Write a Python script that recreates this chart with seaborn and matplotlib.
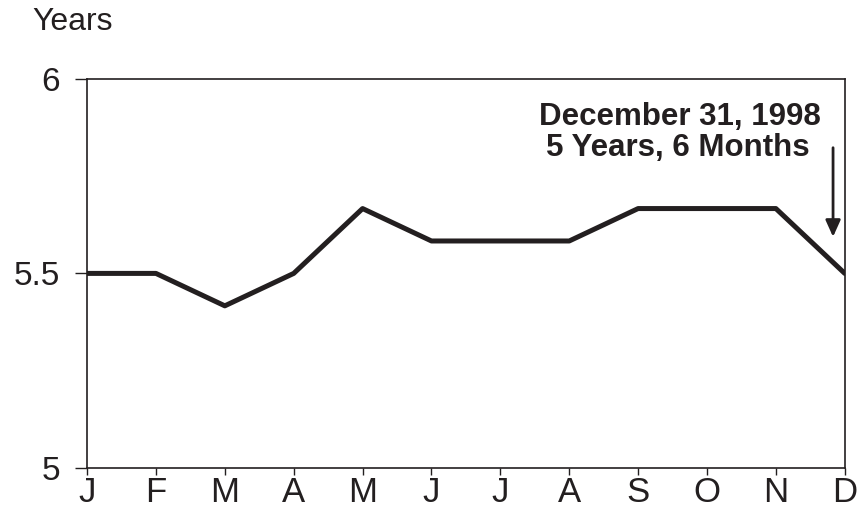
import seaborn as sns
import matplotlib.pyplot as plt
import pandas as pd

months = ['J', 'F', 'M', 'A', 'M', 'J', 'J', 'A', 'S', 'O', 'N', 'D']
# average maturity in months, shown in years
maturity_months = [66, 66, 65, 66, 68, 67, 67, 67, 68, 68, 68, 66]

df = pd.DataFrame({'idx': range(len(months)),
                   'years': [m / 12 for m in maturity_months]})

sns.set_style('white')
plt.rcParams['font.family'] = ['Liberation Sans', 'DejaVu Sans']

ink = '#231f20'
fig = plt.figure(figsize=(8.62, 5.12), dpi=100)
ax = fig.add_axes([0.101, 0.086, 0.879, 0.760])

sns.lineplot(data=df, x='idx', y='years', color=ink, linewidth=3.6, ax=ax)

ax.set_xlim(0, 11)
ax.set_ylim(5, 6)
ax.set_xticks(range(len(months)))
ax.set_xticklabels(months)
ax.set_yticks([5, 5.5, 6])
ax.set_yticklabels(['5', '5.5', '6'])
ax.set_xlabel('')
ax.set_ylabel('')
ax.tick_params(axis='x', direction='out', length=5, width=1.0, labelsize=25, pad=1,
               bottom=True, colors=ink)
ax.tick_params(axis='y', direction='out', length=8.6, width=1.0, labelsize=24, pad=11,
               left=True, colors=ink)
for sp in ax.spines.values():
    sp.set_color(ink)
    sp.set_linewidth(1.2)

fig.text(0.037, 1 - 30 / 512, 'Years', fontsize=23, ha='left', va='baseline', color=ink)

ax.text(8.61, 5.902, 'December 31, 1998', ha='center', va='center',
        fontsize=22.5, fontweight='bold', color=ink)
ax.text(8.57, 5.823, '5 Years, 6 Months', ha='center', va='center',
        fontsize=22.5, fontweight='bold', color=ink)
ax.annotate('', xy=(10.83, 5.594), xytext=(10.83, 5.823),
            arrowprops=dict(arrowstyle='-|>,head_width=0.45,head_length=1.0',
                            color=ink, lw=2.0, shrinkA=0, shrinkB=0))

fig.savefig('out.png', dpi=100)
